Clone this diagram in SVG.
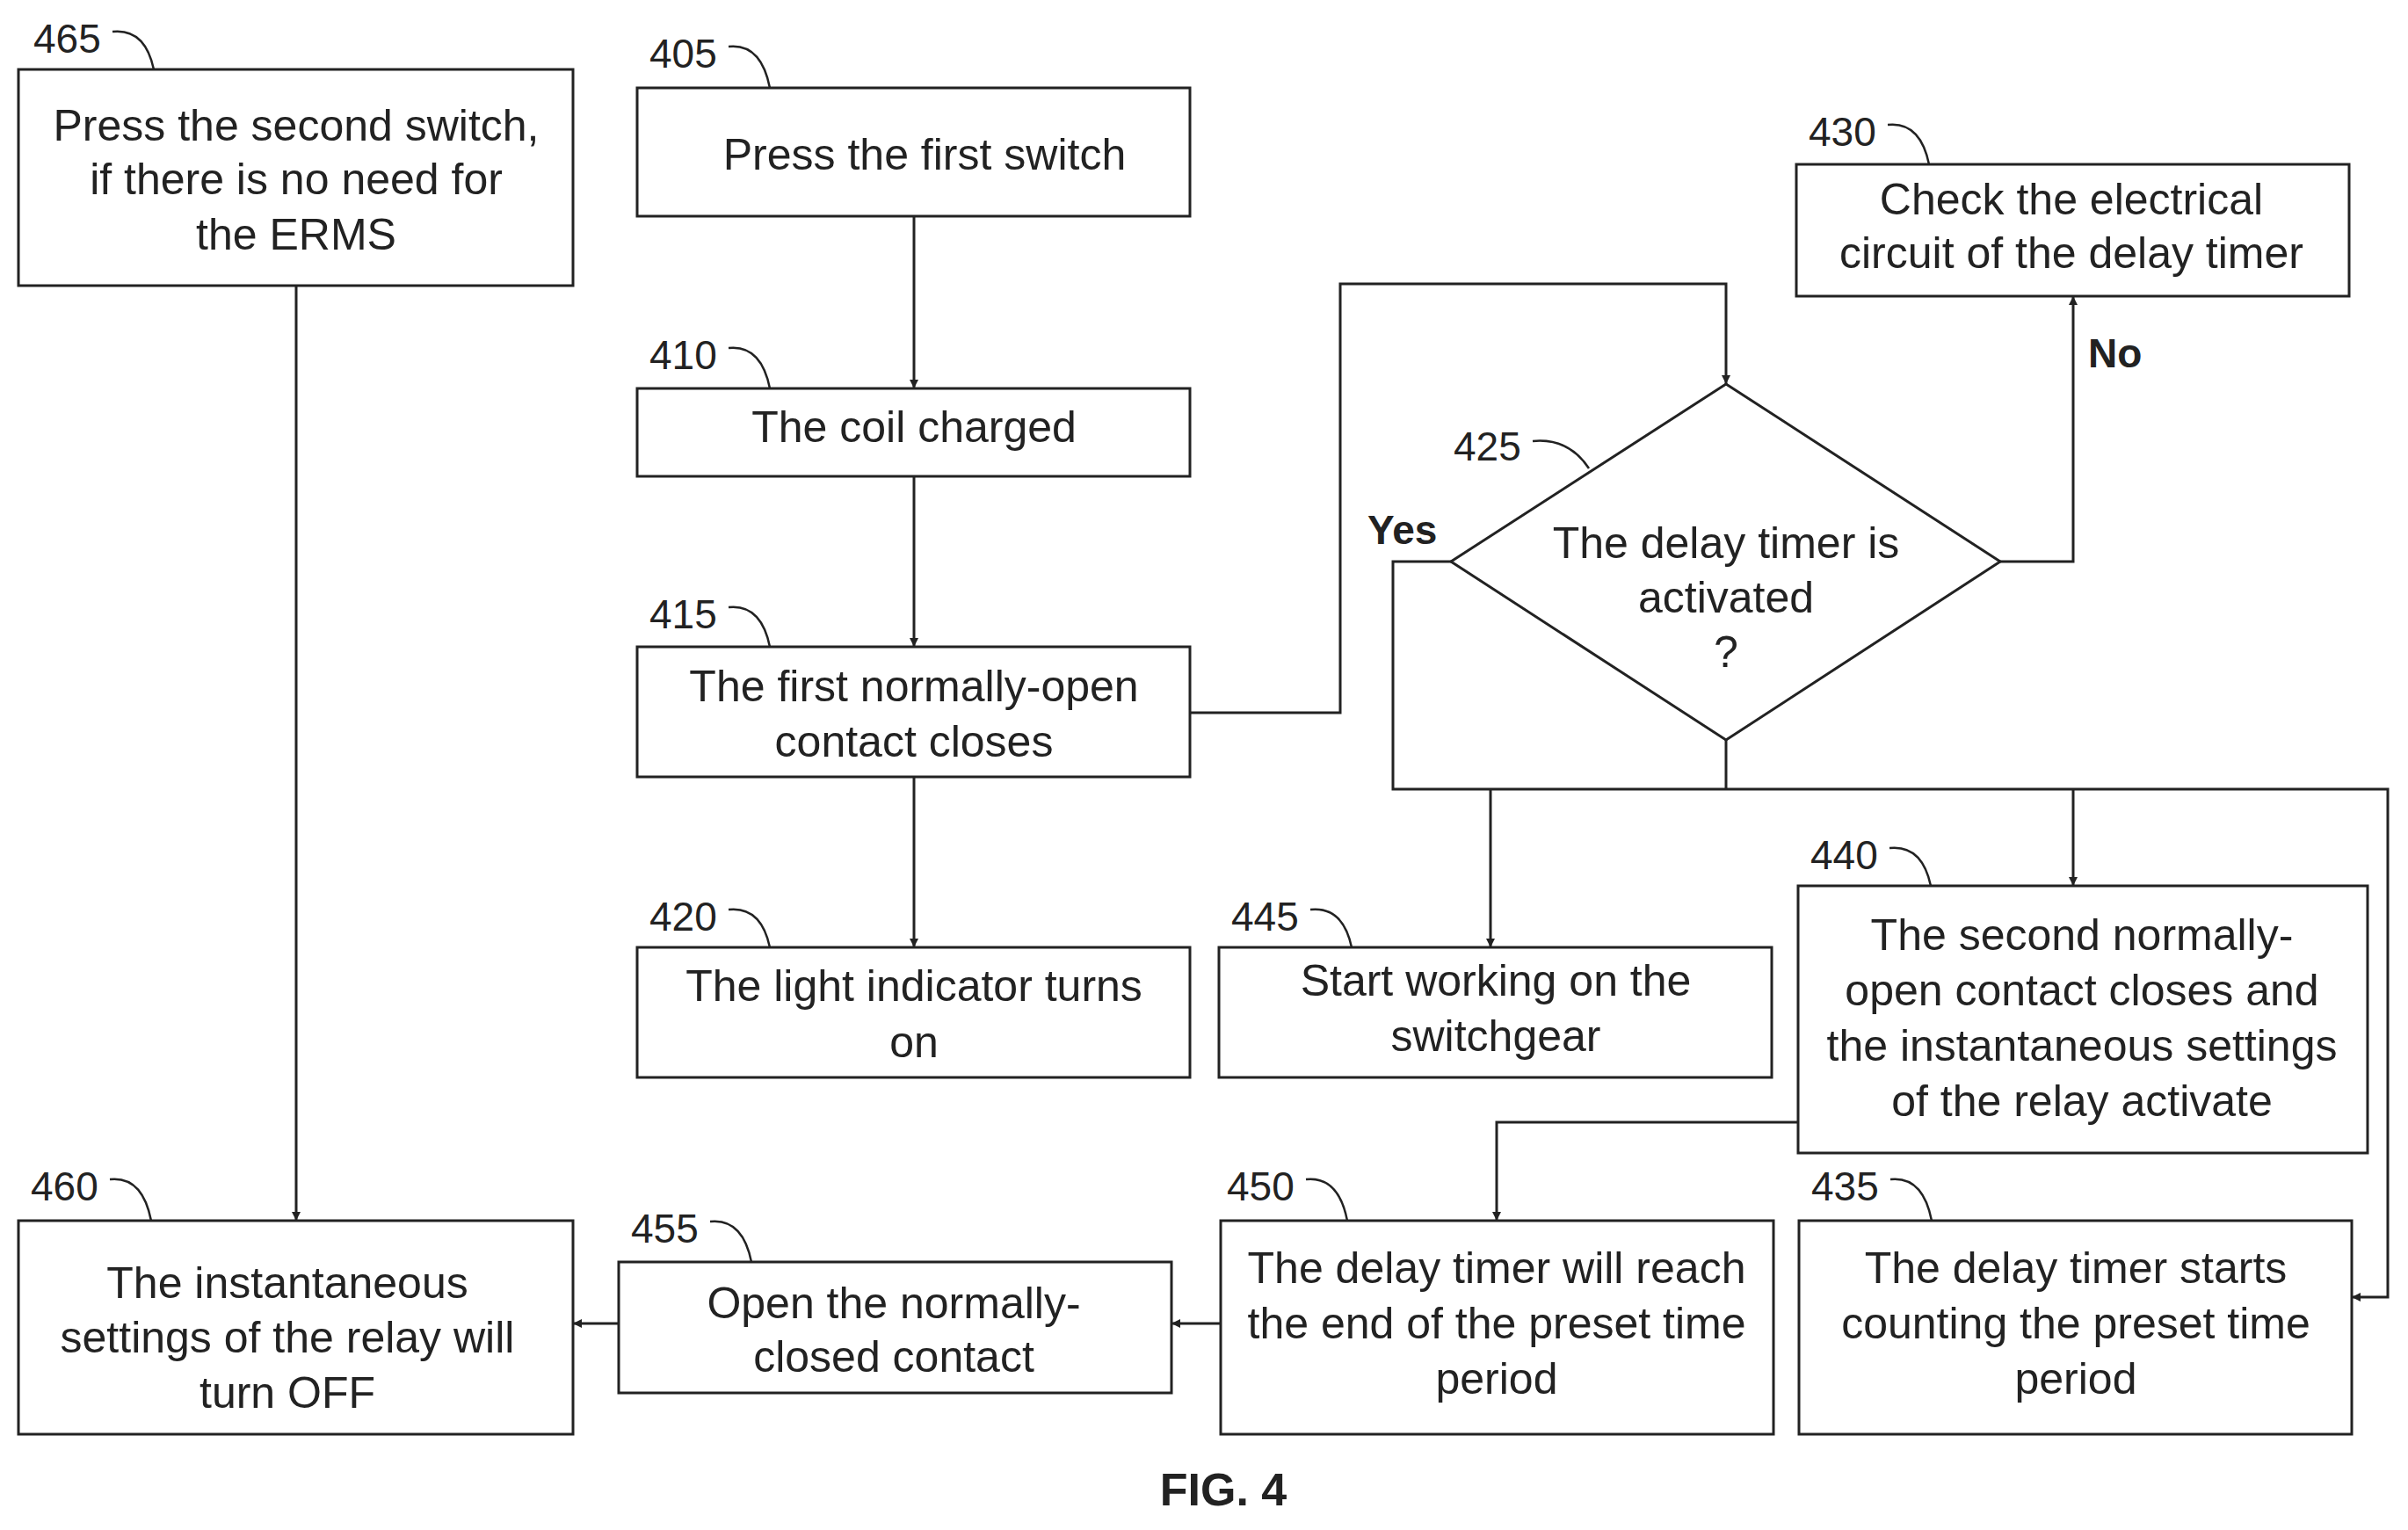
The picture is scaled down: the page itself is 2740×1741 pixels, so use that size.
<svg xmlns="http://www.w3.org/2000/svg" width="2740" height="1741" viewBox="0 0 2740 1741">
<defs>
<marker id="ah" viewBox="0 0 10 10" refX="10" refY="5" markerWidth="10" markerHeight="10" markerUnits="userSpaceOnUse" orient="auto"><path d="M0,0 L10,5 L0,10 z" fill="#222"/></marker>
<style>
rect,polygon{fill:#fff;stroke:#222;stroke-width:3}
.c{fill:none;stroke:#222;stroke-width:3}
.t{font-family:"Liberation Sans",Arial,sans-serif;font-size:50px;fill:#222;text-anchor:middle;dominant-baseline:central}
.n{font-family:"Liberation Sans",Arial,sans-serif;font-size:46px;fill:#222;dominant-baseline:central}
.l{fill:none;stroke:#222;stroke-width:2.5}
</style>
</defs>
<rect width="2740" height="1741" style="fill:#fff;stroke:none"/>
<g id="connectors">
<path class="c" d="M1040,246 V442" marker-end="url(#ah)"/>
<path class="c" d="M1040,542 V736" marker-end="url(#ah)"/>
<path class="c" d="M1040,884 V1078" marker-end="url(#ah)"/>
<path class="c" d="M1354,811 H1525 V323 H1964 V437" marker-end="url(#ah)"/>
<path class="c" d="M2276,639 H2359 V337" marker-end="url(#ah)"/>
<path class="c" d="M1651,639 H1585 V898 H2717 V1476 H2676" marker-end="url(#ah)"/>
<path class="c" d="M1964,842 V898"/>
<path class="c" d="M1696,898 V1078" marker-end="url(#ah)"/>
<path class="c" d="M2359,898 V1008" marker-end="url(#ah)"/>
<path class="c" d="M2046,1277 H1703 V1389" marker-end="url(#ah)"/>
<path class="c" d="M1389,1506 H1333" marker-end="url(#ah)"/>
<path class="c" d="M704,1506 H652" marker-end="url(#ah)"/>
<path class="c" d="M337,325 V1389" marker-end="url(#ah)"/>
<text class="n" x="2376" y="402" style="font-weight:bold">No</text>
<text class="n" x="1556" y="603" style="font-weight:bold">Yes</text>
</g>
<g id="n465"><rect x="21" y="79" width="631" height="246"/><text class="t" x="337" y="143">Press the second switch,</text><text class="t" x="337" y="204">if there is no need for</text><text class="t" x="337" y="267">the ERMS</text><text class="n" x="38" y="44">465</text><path class="l" d="M128,36 Q165,32 175,79"/></g>
<g id="n405"><rect x="725" y="100" width="629" height="146"/><text class="t" x="1052" y="176">Press the first switch</text><text class="n" x="739" y="61">405</text><path class="l" d="M829,53 Q866,49 876,100"/></g>
<g id="n410"><rect x="725" y="442" width="629" height="100"/><text class="t" x="1040" y="486">The coil charged</text><text class="n" x="739" y="404">410</text><path class="l" d="M829,396 Q866,392 876,442"/></g>
<g id="n415"><rect x="725" y="736" width="629" height="148"/><text class="t" x="1040" y="781">The first normally-open</text><text class="t" x="1040" y="844">contact closes</text><text class="n" x="739" y="699">415</text><path class="l" d="M829,691 Q866,687 876,736"/></g>
<g id="n420"><rect x="725" y="1078" width="629" height="148"/><text class="t" x="1040" y="1122">The light indicator turns</text><text class="t" x="1040" y="1186">on</text><text class="n" x="739" y="1043">420</text><path class="l" d="M829,1035 Q866,1031 876,1078"/></g>
<g id="n430"><rect x="2044" y="187" width="629" height="150"/><text class="t" x="2357" y="227">Check the electrical</text><text class="t" x="2357" y="288">circuit of the delay timer</text><text class="n" x="2058" y="150">430</text><path class="l" d="M2148,142 Q2185,138 2195,187"/></g>
<g id="n425"><polygon points="1964,437 2276,639 1964,842 1651,639"/><text class="t" x="1964" y="618">The delay timer is</text><text class="t" x="1964" y="680">activated</text><text class="t" x="1964" y="742">?</text><text class="n" x="1654" y="508">425</text><path class="l" d="M1744,502 Q1785,498 1808,533"/></g>
<g id="n445"><rect x="1387" y="1078" width="629" height="148"/><text class="t" x="1702" y="1116">Start working on the</text><text class="t" x="1702" y="1179">switchgear</text><text class="n" x="1401" y="1043">445</text><path class="l" d="M1491,1035 Q1528,1031 1538,1078"/></g>
<g id="n440"><rect x="2046" y="1008" width="648" height="304"/><text class="t" x="2369" y="1064">The second normally-</text><text class="t" x="2369" y="1127">open contact closes and</text><text class="t" x="2369" y="1190">the instantaneous settings</text><text class="t" x="2369" y="1253">of the relay activate</text><text class="n" x="2060" y="973">440</text><path class="l" d="M2150,965 Q2187,961 2197,1008"/></g>
<g id="n460"><rect x="21" y="1389" width="631" height="243"/><text class="t" x="327" y="1460">The instantaneous</text><text class="t" x="327" y="1522">settings of the relay will</text><text class="t" x="327" y="1585">turn OFF</text><text class="n" x="35" y="1350">460</text><path class="l" d="M125,1342 Q162,1338 172,1389"/></g>
<g id="n455"><rect x="704" y="1436" width="629" height="149"/><text class="t" x="1017" y="1483">Open the normally-</text><text class="t" x="1017" y="1544">closed contact</text><text class="n" x="718" y="1398">455</text><path class="l" d="M808,1390 Q845,1386 855,1436"/></g>
<g id="n450"><rect x="1389" y="1389" width="629" height="243"/><text class="t" x="1703" y="1443">The delay timer will reach</text><text class="t" x="1703" y="1506">the end of the preset time</text><text class="t" x="1703" y="1569">period</text><text class="n" x="1396" y="1350">450</text><path class="l" d="M1486,1342 Q1523,1338 1533,1389"/></g>
<g id="n435"><rect x="2047" y="1389" width="629" height="243"/><text class="t" x="2362" y="1443">The delay timer starts</text><text class="t" x="2362" y="1506">counting the preset time</text><text class="t" x="2362" y="1569">period</text><text class="n" x="2061" y="1350">435</text><path class="l" d="M2151,1342 Q2188,1338 2198,1389"/></g>
<text x="1392" y="1695" style="font-family:'Liberation Sans',Arial,sans-serif;font-size:52px;font-weight:bold;fill:#222;text-anchor:middle;dominant-baseline:central">FIG. 4</text>
</svg>
